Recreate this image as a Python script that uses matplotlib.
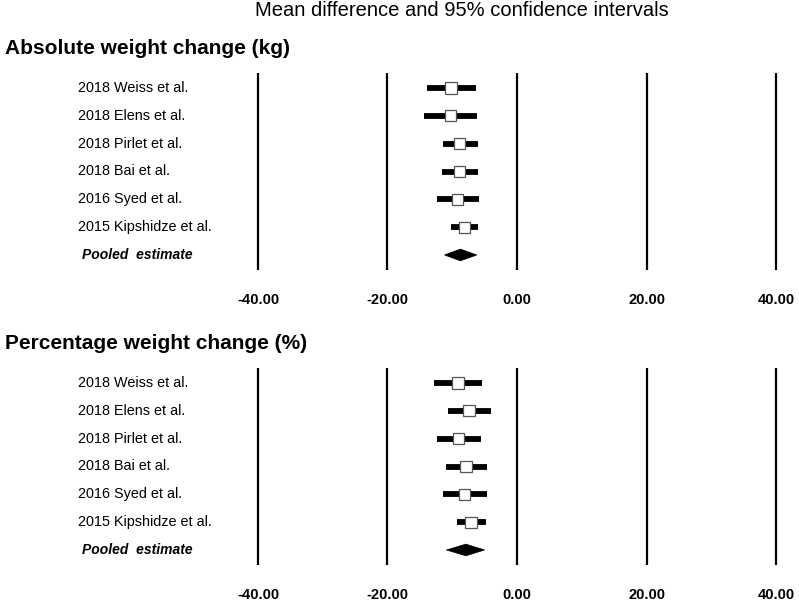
import matplotlib
matplotlib.use("Agg")
import matplotlib.pyplot as plt
from matplotlib.patches import Polygon, Rectangle

plt.rcParams['font.family'] = ['Liberation Sans', 'DejaVu Sans']

studies = ["2018 Weiss et al.", "2018 Elens et al.", "2018 Pirlet et al.",
           "2018 Bai et al.", "2016 Syed et al.", "2015 Kipshidze et al."]
pooled_label = "Pooled  estimate"

# Absolute weight change (kg)
abs_mean = [-10.2, -10.3, -8.85, -8.85, -9.2, -8.1]
abs_lo = [-13.9, -14.3, -11.5, -11.6, -12.4, -10.2]
abs_hi = [-6.3, -6.1, -6.0, -6.0, -5.9, -6.0]
abs_pooled = (-8.75, -11.2, -6.2)

# Percentage weight change (%)
pct_mean = [-9.1, -7.4, -9.0, -7.9, -8.1, -7.1]
pct_lo = [-12.8, -10.7, -12.3, -10.9, -11.4, -9.3]
pct_hi = [-5.4, -4.0, -5.6, -4.7, -4.7, -4.8]
pct_pooled = (-7.9, -10.9, -5.0)

xticks = [-40, -20, 0, 20, 40]
xtick_labels = ["-40.00", "-20.00", "0.00", "20.00", "40.00"]

W, H = 799, 601
fig = plt.figure(figsize=(W / 100, H / 100), dpi=100)

fig.text(255 / W, 1 - 11 / H, "Mean difference and 95% confidence intervals",
         fontsize=14.5, ha='left', va='center')

def panel(top_px, title, means, los, his, pooled):
    left_px, right_px = 245, 789
    bottom_px = top_px + 197
    ax = fig.add_axes([left_px / W, 1 - bottom_px / H, (right_px - left_px) / W, 197 / H])
    ax.set_xlim(-42, 42)
    ax.set_ylim(6.54, -0.54)
    ax.axis('off')
    for xv in xticks:
        ax.axvline(xv, color='black', lw=1.6)
    n = len(means)
    for i in range(n):
        ax.plot([los[i], his[i]], [i, i], color='black', lw=4.2, solid_capstyle='butt', zorder=2)
        sq_w = 1.75
        sq_h = 0.4
        ax.add_patch(Rectangle((means[i] - sq_w / 2, i - sq_h / 2), sq_w, sq_h,
                               facecolor='white', edgecolor='#555555', lw=0.9, zorder=3))
    m, lo, hi = pooled
    ax.add_patch(Polygon([[lo, n], [m, n - 0.21], [hi, n], [m, n + 0.21]], closed=True,
                         facecolor='black', edgecolor='black', lw=0.5, zorder=3))
    for i, s in enumerate(studies):
        fig.text(78 / W, 1 - (top_px + 15 + 27.83 * i) / H, s, fontsize=10.4,
                 ha='left', va='center')
    fig.text(82 / W, 1 - (top_px + 15 + 27.83 * n) / H, pooled_label, fontsize=10,
             fontweight='bold', fontstyle='italic', ha='left', va='center')
    for xv, lab in zip(xticks, xtick_labels):
        ax.annotate(lab, xy=(xv, 0), xycoords=('data', 'axes fraction'),
                    xytext=(0, -30), textcoords='offset pixels',
                    ha='center', va='center', fontsize=10.5, fontweight='bold')
    fig.text(5 / W, 1 - (top_px - 25) / H, title, fontsize=15, fontweight='bold',
             ha='left', va='center')

panel(73, "Absolute weight change (kg)", abs_mean, abs_lo, abs_hi, abs_pooled)
panel(368, "Percentage weight change (%)", pct_mean, pct_lo, pct_hi, pct_pooled)

fig.savefig("out.png", dpi=100)
